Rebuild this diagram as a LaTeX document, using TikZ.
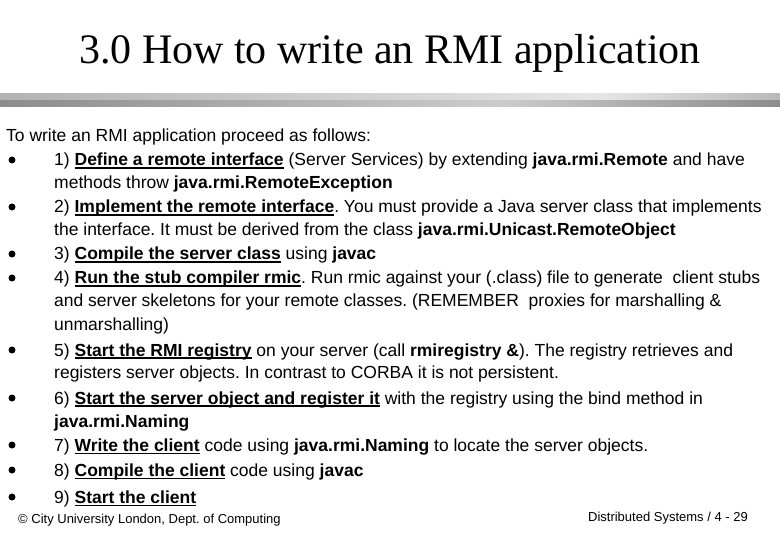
\documentclass[tikz,border=0pt]{standalone}
\usepackage{fontspec}
\setmainfont{Liberation Sans}
\newfontfamily\timesf{Liberation Serif}
\newsavebox{\ulbox}
\newcommand{\uln}[1]{\sbox{\ulbox}{\textbf{#1}}\usebox{\ulbox}\llap{\rule[-2.6pt]{\wd\ulbox}{1.1pt}}}
\frenchspacing
\begin{document}
\begin{tikzpicture}[x=1pt,y=-1pt,
  txt/.style={anchor=base west,inner sep=0pt,font=\fontsize{17.5}{20}\selectfont},
  bul/.style={circle,fill=black,inner sep=0pt,minimum size=7pt}]
\useasboundingbox (0,0) rectangle (780,540);
\node[anchor=base,inner sep=0pt,font=\timesf\fontsize{42}{46}\selectfont] (title) at (390,64) {3.0 How to write an RMI application};
\shade[left color=gray!60,right color=gray!20] (0,94) rectangle (600,101);
\shade[left color=gray!20,right color=gray!55] (600,94) rectangle (780,101);
\shade[left color=gray!90,right color=gray!40] (0,101) rectangle (500,107);
\shade[left color=gray!40,right color=gray!90] (500,101) rectangle (780,107);
\node[txt] (l0) at (6,142) {To write an RMI application proceed as follows:};
\foreach \y in {160,207,254,278,350,398,445,470,497}{\node[bul] at (12,\y) {};}
\node[txt] (l1) at (54,166) {1) \uln{Define a remote interface} (Server Services) by extending \textbf{java.rmi.Remote} and have};
\node[txt] (l1b) at (54,189) {methods throw \textbf{java.rmi.RemoteException}};
\node[txt] (l2) at (54,213) {2) \uln{Implement the remote interface}. You must provide a Java server class that implements};
\node[txt] (l2b) at (54,236) {the interface. It must be derived from the class \textbf{java.rmi.Unicast.RemoteObject}};
\node[txt] (l3) at (54,260) {3) \uln{Compile the server class} using \textbf{javac}};
\node[txt] (l4) at (54,284) {4) \uln{Run the stub compiler rmic}. Run rmic against your (.class) file to generate\ \ client stubs};
\node[txt] (l4b) at (54,307) {and server skeletons for your remote classes. (REMEMBER\ \ proxies for marshalling \&};
\node[txt] (l4c) at (54,331) {unmarshalling)};
\node[txt] (l5) at (54,356) {5) \uln{Start the RMI registry} on your server (call \textbf{rmiregistry \&}). The registry retrieves and};
\node[txt] (l5b) at (54,379) {registers server objects. In contrast to CORBA it is not persistent.};
\node[txt] (l6) at (54,404) {6) \uln{Start the server object and register it} with the registry using the bind method in};
\node[txt] (l6b) at (54,427) {\textbf{java.rmi.Naming}};
\node[txt] (l7) at (54,451) {7) \uln{Write the client} code using \textbf{java.rmi.Naming} to locate the server objects.};
\node[txt] (l8) at (54,476) {8) \uln{Compile the client} code using \textbf{javac}};
\node[txt] (l9) at (54,503) {9) \uln{Start the client}};
\node[anchor=base west,inner sep=0pt,font=\fontsize{13}{15}\selectfont] (f1) at (18,523) {© City University London, Dept. of Computing};
\node[anchor=base east,inner sep=0pt,font=\fontsize{13}{15}\selectfont] (f2) at (748,521) {Distributed Systems / 4 - 29};
\end{tikzpicture}
\end{document}
